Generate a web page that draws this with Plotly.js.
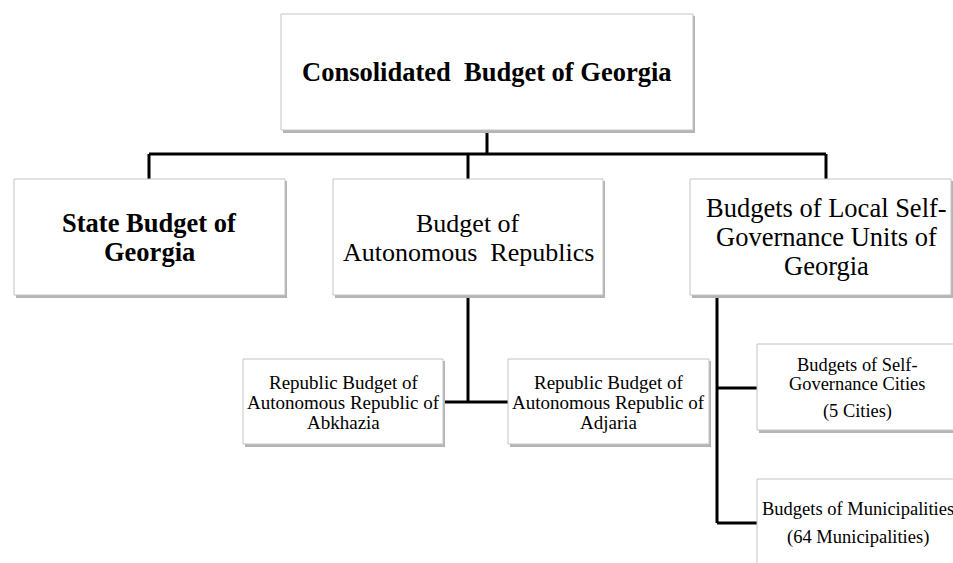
<!DOCTYPE html>
<html>
<head>
<meta charset="utf-8">
<script src="https://cdn.plot.ly/plotly-3.0.1.min.js"></script>
<style>html,body{margin:0;padding:0;background:#fff;}#chart{width:953px;height:563px;}</style>
</head>
<body>
<div id="chart"></div>
<script>
// Node labels (hierarchy of the Consolidated Budget of Georgia); each entry is a list of text lines
var nodeIds = ["root", "state", "auto", "local", "abkh", "adj", "cities", "munic"];
var nodeLines = [
  ["Consolidated  Budget of Georgia"],
  ["State Budget of", "Georgia"],
  ["Budget of", "Autonomous  Republics"],
  ["Budgets of Local Self-", "Governance Units of", "Georgia"],
  ["Republic Budget of", "Autonomous Republic of", "Abkhazia"],
  ["Republic Budget of", "Autonomous Republic of", "Adjaria"],
  ["Budgets of Self-", "Governance Cities", "(5 Cities)"],
  ["Budgets of Municipalities", "(64 Municipalities)"]
];
var nodeBold = [true, true, false, false, false, false, false, false];
var parentOf = [null, "root", "root", "root", "auto", "auto", "local", "local"];

// Layout geometry (pixels, not data): box edges, text centre x, y of each text line, font size
var geom = {
  root:   {x0: 281, x1: 693, y0: 14,  y1: 130, lineY: [72], fs: 26.5},
  state:  {x0: 14,  x1: 285, y0: 179, y1: 295, lineY: [223, 252], fs: 26.5},
  auto:   {x0: 333, x1: 603, y0: 179, y1: 295, lineY: [223, 252], fs: 26},
  local:  {x0: 690, x1: 951, y0: 179, y1: 295, lineY: [208, 237, 266], fs: 26.5, cx: 826},
  abkh:   {x0: 243, x1: 443, y0: 359, y1: 444, lineY: [382, 402, 422], fs: 19},
  adj:    {x0: 508, x1: 709, y0: 359, y1: 444, lineY: [382, 402, 422], fs: 19},
  cities: {x0: 757, x1: 960, y0: 344, y1: 430, lineY: [365, 384, 411], fs: 18.4, cx: 857},
  munic:  {x0: 757, x1: 960, y0: 479, y1: 580, lineY: [509, 537], fs: 18.5, cx: 858}
};
var FONT = "Liberation Serif";

var shapes = [];
var annotations = [];

function line(x0, y0, x1, y1) {
  shapes.push({type: "line", xref: "x", yref: "y", x0: x0, y0: y0, x1: x1, y1: y1,
    line: {color: "#000000", width: 3}, layer: "below"});
}

// Connectors
var rootCx = 487, busY = 154;
line(rootCx, geom.root.y1, rootCx, busY);
line(149, busY, 826, busY);
line(149, busY, 149, geom.state.y0);
line(468, busY, 468, geom.auto.y0);
line(826, busY, 826, geom.local.y0);
line(468, geom.auto.y1, 468, 402);
line(geom.abkh.x1, 402, geom.adj.x0, 402);
line(717, geom.local.y1, 717, 523);
line(717, 388, geom.cities.x0, 388);
line(717, 523, geom.munic.x0, 523);

nodeIds.forEach(function (id, i) {
  var g = geom[id];
  shapes.push({type: "rect", xref: "x", yref: "y", x0: g.x0 + 2, x1: g.x1 + 2, y0: g.y0 + 2, y1: g.y1 + 3,
    fillcolor: "#b4b4b4", line: {width: 0}, layer: "above"});
  shapes.push({type: "rect", xref: "x", yref: "y", x0: g.x0, x1: g.x1, y0: g.y0, y1: g.y1,
    fillcolor: "#ffffff", line: {color: "#c4c4c4", width: 1}, layer: "above"});
  var cx = g.cx !== undefined ? g.cx : (g.x0 + g.x1) / 2;
  nodeLines[i].forEach(function (txt, k) {
    annotations.push({
      xref: "x", yref: "y", x: cx, y: g.lineY[k], showarrow: false,
      text: nodeBold[i] ? "<b>" + txt + "</b>" : txt,
      align: "center", xanchor: "center", yanchor: "middle",
      font: {family: FONT, size: g.fs, color: "#000000"}
    });
  });
});

var layout = {
  width: 953, height: 563,
  margin: {l: 0, r: 0, t: 0, b: 0},
  paper_bgcolor: "#ffffff", plot_bgcolor: "#ffffff",
  xaxis: {range: [0, 953], visible: false, fixedrange: true},
  yaxis: {range: [563, 0], visible: false, fixedrange: true},
  showlegend: false,
  shapes: shapes,
  annotations: annotations
};

Plotly.newPlot("chart", [{x: [], y: [], type: "scatter", mode: "markers"}], layout, {displayModeBar: false, staticPlot: true});
</script>
</body>
</html>
